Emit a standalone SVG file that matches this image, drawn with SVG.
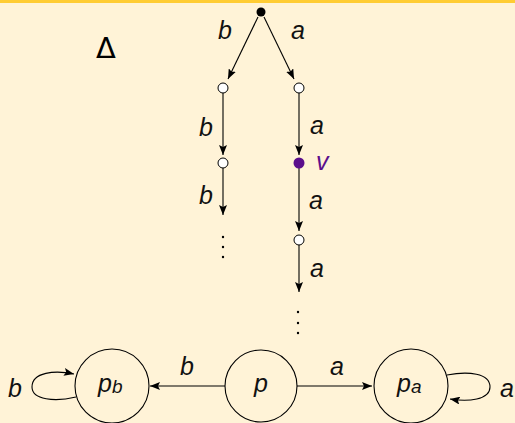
<svg xmlns="http://www.w3.org/2000/svg" width="515" height="423" viewBox="0 0 515 423">
<defs>
<marker id="ah" viewBox="0 0 10 8" refX="10" refY="4" markerWidth="10" markerHeight="8" markerUnits="userSpaceOnUse" orient="auto">
<path d="M0,0 L10,4 L0,8 L2,4 Z" fill="#000"/>
</marker>
</defs>
<style>
.e{stroke:#000;stroke-width:1.1;fill:none;marker-end:url(#ah)}
.t{font-family:"Liberation Sans",Arial,sans-serif;font-style:italic;font-size:25px;fill:#111}
.st{fill:none;stroke:#000;stroke-width:1.1}
.o{fill:#fff;stroke:#000;stroke-width:1}
</style>
<rect width="515" height="423" fill="#fff3d7"/>
<rect width="515" height="3" fill="#ffcc33"/>
<text x="96" y="58" font-family="DejaVu Sans,sans-serif" font-size="29" fill="#000">Δ</text>
<g id="connectors">
<line class="e" x1="258" y1="17" x2="228" y2="79"/>
<line class="e" x1="264" y1="17" x2="294" y2="79"/>
<line class="e" x1="223" y1="93" x2="223" y2="155"/>
<line class="e" x1="299" y1="93" x2="299" y2="155"/>
<line class="e" x1="223" y1="168" x2="223" y2="215"/>
<line class="e" x1="299" y1="168" x2="299" y2="231"/>
<line class="e" x1="299" y1="245" x2="299" y2="292"/>
<line class="e" x1="225" y1="386" x2="150" y2="386"/>
<line class="e" x1="297" y1="386" x2="372" y2="386"/>
<path class="e" d="M76,397 C55,402 32,400 32,387 C32,372 55,370 74,374"/>
<path class="e" d="M447,375 C468,371 490,373 490,387 C490,400 468,402 450,399"/>
<text class="t" x="218" y="39">b</text>
<text class="t" x="291" y="39">a</text>
<text class="t" x="199" y="136">b</text>
<text class="t" x="310" y="134">a</text>
<text class="t" x="199" y="204">b</text>
<text class="t" x="309" y="209">a</text>
<text class="t" x="310" y="277">a</text>
<text class="t" x="180" y="375">b</text>
<text class="t" x="330" y="375">a</text>
<text class="t" x="8" y="397">b</text>
<text class="t" x="500" y="397">a</text>
</g>
<g id="root"><circle cx="261" cy="12" r="4.5" fill="#000"/></g>
<g id="l1"><circle class="o" cx="223" cy="88" r="5"/></g>
<g id="r1"><circle class="o" cx="299" cy="88" r="5"/></g>
<g id="l2"><circle class="o" cx="223" cy="163" r="5"/></g>
<g id="v"><circle cx="299" cy="163" r="5.5" fill="#5b0e8c"/><text x="316" y="170" font-family="Liberation Sans,Arial,sans-serif" font-style="italic" font-size="25" fill="#5b0e8c">v</text></g>
<g id="r3"><circle class="o" cx="299" cy="240" r="5"/></g>
<g id="dotsL" fill="#000"><circle cx="223" cy="237" r="1.2"/><circle cx="223" cy="247" r="1.2"/><circle cx="223" cy="257" r="1.2"/></g>
<g id="dotsR" fill="#000"><circle cx="298" cy="312" r="1.2"/><circle cx="298" cy="323" r="1.2"/><circle cx="298" cy="333" r="1.2"/></g>
<g id="pb"><circle class="st" cx="112" cy="386" r="37"/><text class="t" x="98" y="392">p<tspan font-size="19" dy="1">b</tspan></text></g>
<g id="p"><circle class="st" cx="261" cy="386" r="36"/><text class="t" x="254" y="392">p</text></g>
<g id="pa"><circle class="st" cx="411" cy="386" r="37"/><text class="t" x="397" y="392">p<tspan font-size="19" dy="1">a</tspan></text></g>
</svg>
